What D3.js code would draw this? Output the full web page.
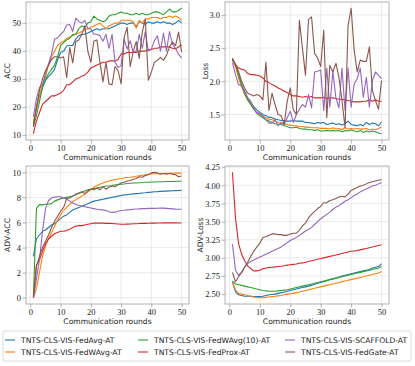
<!DOCTYPE html>
<html><head><meta charset="utf-8">
<script src="https://cdn.jsdelivr.net/npm/d3@7"></script>
<style>body{margin:0;background:#fff}svg{display:block}</style>
</head><body><svg id="c" width="415" height="366"></svg>
<script>
const rounds = d3.range(1, 51);
const seriesNames = ["TNTS-CLS-VIS-FedAvg-AT","TNTS-CLS-VIS-FedWAvg-AT","TNTS-CLS-VIS-FedWAvg(10)-AT","TNTS-CLS-VIS-FedProx-AT","TNTS-CLS-VIS-SCAFFOLD-AT","TNTS-CLS-VIS-FedGate-AT"];
const colors = ["#1f77b4","#ff7f0e","#2ca02c","#d62728","#9467bd","#8c564b"];

// ACC
const accFedAvg = [14,20,24,27,29.5,31,32,33.5,37,39.5,40,41.8,42,42,44.3,45.5,46,46,46.5,47,47.5,48,47.5,48,48,48,48.5,49,49.5,50,50,49.5,50,50,48.8,50.5,50,49.5,50.5,50,50,50.5,50,50.5,50,50,49.5,50,51,50];
const accFedWAvg = [15,19,24,28,31,35,38,40,42,43,43.5,44.5,45,45.5,46,46.5,47,47.5,48,48.5,49,49.5,50,49,48,49,49.5,50,50,51,51,51,51,50.5,48.2,51,50,51.5,51.5,52,52,52,51.5,52,52,52.5,52,52.5,52,51];
const accFedWAvg10 = [13,17,22,27,30,32,33.5,35,38,42,43,44,44.5,46,46,48,49,48.5,50,50.5,52.5,51.5,51,50.5,51,52.5,53,53,53.5,54,53.5,53.5,53,53,53.5,53,53.5,53,53,53.5,54,54,53.5,53,54,55,54,54,54.5,55.3];
const accFedProx = [10.5,15,18,21,22,23,24,24,24.5,25,26,28,28,29,30,30.5,31,31.5,32.5,34,34.5,35,35.5,36,36,36.5,36.5,36.5,37,39,39,39.5,39.5,39.5,39.5,40,40,40,40.5,40.5,41,41,41.5,41.5,41.5,41.5,41,40.8,41.5,42.2];
const accScaffold = [16.5,23,27,28,32,35.5,39,44.3,44.7,46,47,49.3,49.5,47,51.8,50.6,50,51,48,48,46,46,45.5,43.5,46,41,46,36,34.2,34.8,44.3,40.7,43.7,39.5,40,46,41,47,40,40.7,43.7,45.5,40,46.4,40,47,42.4,41,38.8,37.6];
const accFedGate = [13,20,26,30,33,35,37,38,38,37.5,38,30.5,41.3,35.8,43.4,44,46,49,40,36,43.6,44,36,29,36,28.3,28,34.5,33,28.3,44.9,48.5,34.5,39.8,43.4,37.4,46.8,51.3,29.6,32.5,36,36.7,37.8,36.7,38.5,41.5,43.2,42,46.8,39.7];

// Loss
const lossFedAvg = [2.33,2.25,2.1,1.95,1.85,1.75,1.68,1.62,1.57,1.53,1.5,1.48,1.46,1.45,1.43,1.42,1.41,1.41,1.4,1.4,1.41,1.4,1.4,1.4,1.38,1.38,1.37,1.36,1.38,1.37,1.38,1.35,1.36,1.37,1.35,1.36,1.34,1.36,1.4,1.35,1.34,1.33,1.35,1.33,1.38,1.35,1.37,1.36,1.33,1.39];
const lossFedWAvg = [2.33,2.22,2.05,1.92,1.8,1.72,1.65,1.58,1.53,1.5,1.47,1.45,1.43,1.42,1.4,1.38,1.37,1.36,1.35,1.34,1.33,1.33,1.32,1.32,1.31,1.31,1.3,1.3,1.3,1.29,1.29,1.29,1.28,1.3,1.28,1.29,1.27,1.3,1.28,1.29,1.28,1.29,1.28,1.28,1.29,1.27,1.28,1.27,1.29,1.31];
const lossFedWAvg10 = [2.35,2.25,2.1,1.95,1.82,1.72,1.65,1.58,1.52,1.48,1.45,1.42,1.4,1.38,1.36,1.35,1.35,1.33,1.32,1.3,1.3,1.31,1.29,1.28,1.28,1.27,1.27,1.26,1.27,1.25,1.25,1.26,1.25,1.26,1.25,1.26,1.24,1.26,1.25,1.27,1.25,1.24,1.26,1.23,1.25,1.24,1.25,1.24,1.22,1.21];
const lossFedProx = [2.33,2.25,2.2,2.18,2.17,2.12,2.1,2.1,2.09,2.08,2.05,2.0,1.98,1.95,1.93,1.9,1.88,1.85,1.83,1.8,1.78,1.78,1.77,1.76,1.77,1.76,1.77,1.75,1.75,1.75,1.76,1.74,1.75,1.75,1.74,1.73,1.73,1.72,1.71,1.7,1.69,1.69,1.69,1.7,1.7,1.72,1.7,1.72,1.7,1.7];
const lossScaffold = [2.28,2.1,1.95,1.93,1.85,1.75,1.7,1.6,1.52,1.52,1.48,1.42,1.37,1.37,1.42,1.33,1.38,1.35,1.45,1.55,1.38,1.5,1.58,1.65,1.61,1.8,1.6,2.14,2.15,2.17,1.56,2.2,1.61,2.15,1.75,1.6,2.2,1.56,2.2,1.61,1.96,2.04,2.2,1.76,2.06,1.61,2.01,2.14,2.09,2.04];
const lossFedGate = [2.32,2.25,2.15,2.0,1.9,1.82,1.8,1.78,1.8,1.78,1.72,2.29,1.56,1.82,1.65,1.5,1.48,1.35,1.7,1.9,1.57,1.5,2.92,2.5,2.09,2.93,2.97,2.42,2.35,2.22,2.77,1.45,2.24,2.14,2.27,2.06,1.71,1.3,2.84,3.1,2.47,2.14,2.32,2.3,2.3,2.52,1.86,1.71,1.58,2.01];

// ADV-ACC
const advAccFedAvg = [3.3,4.7,5.0,5.3,5.4,5.6,5.8,5.9,6.1,6.3,6.5,6.6,6.8,7.0,7.1,7.2,7.3,7.4,7.5,7.6,7.7,7.75,7.8,7.85,7.9,7.95,8.0,8.05,8.1,8.15,8.2,8.22,8.25,8.28,8.3,8.32,8.35,8.37,8.4,8.42,8.45,8.46,8.48,8.5,8.5,8.52,8.53,8.54,8.55,8.56];
const advAccFedWAvg = [0,0.7,2.0,3.3,4.1,4.7,5.2,5.7,6.2,6.6,6.95,7.2,7.45,7.65,7.8,7.95,8.1,8.25,8.45,8.65,8.8,8.95,9.05,9.15,9.25,9.3,9.37,9.42,9.46,9.5,9.55,9.58,9.6,9.63,9.68,9.72,9.76,9.8,9.84,9.87,9.88,9.89,9.9,9.9,9.91,9.92,9.92,9.93,9.93,9.93];
const advAccFedWAvg10 = [0.1,7.1,7.42,7.4,7.45,7.45,7.5,7.7,7.8,7.9,7.95,8.0,8.05,8.1,8.2,8.3,8.4,8.5,8.6,8.65,8.7,8.75,8.8,8.85,8.9,8.92,8.95,9.0,9.02,9.05,9.07,9.1,9.12,9.14,9.15,9.17,9.18,9.2,9.2,9.22,9.23,9.24,9.25,9.25,9.26,9.27,9.27,9.28,9.28,9.29];
const advAccFedProx = [0,2.6,3.0,3.7,4.3,4.7,4.9,5.1,5.2,5.3,5.3,5.35,5.45,5.6,5.7,5.75,5.75,5.8,5.85,5.9,5.95,5.95,5.95,5.95,5.93,5.93,5.92,5.9,5.88,5.86,5.86,5.87,5.88,5.9,5.9,5.92,5.93,5.93,5.94,5.95,5.95,5.96,5.96,5.97,5.97,5.98,5.97,5.97,5.96,5.96];
const advAccScaffold = [0,1.5,3.0,5.3,7.1,7.75,7.95,8.02,8.05,8.05,7.95,7.85,7.7,7.55,7.45,7.35,7.3,7.25,7.2,7.15,7.1,7.05,7.02,7.0,6.95,6.85,6.8,6.82,6.9,6.95,6.97,7.0,7.02,7.05,7.07,7.08,7.1,7.1,7.12,7.12,7.12,7.13,7.14,7.14,7.12,7.1,7.08,7.06,7.05,7.05];
const advAccFedGate = [0,2.5,3.3,4.0,4.5,5.0,5.6,6.1,6.5,6.9,7.2,7.9,7.95,8.1,8.25,8.35,8.45,8.3,8.5,8.65,8.6,8.75,8.6,8.85,8.65,8.8,8.9,8.85,9.0,9.15,9.2,9.3,9.35,9.45,9.5,9.65,9.6,9.75,9.8,9.95,10.0,9.95,9.85,9.9,9.85,9.9,9.85,9.8,9.65,9.7];

// ADV-Loss
const advLossFedAvg = [2.67,2.53,2.49,2.48,2.47,2.47,2.47,2.465,2.465,2.465,2.47,2.48,2.49,2.495,2.5,2.51,2.52,2.53,2.54,2.55,2.56,2.57,2.58,2.59,2.6,2.61,2.62,2.635,2.65,2.66,2.67,2.685,2.7,2.71,2.72,2.735,2.75,2.76,2.77,2.78,2.79,2.8,2.81,2.82,2.83,2.84,2.86,2.87,2.88,2.92];
const advLossFedWAvg = [2.66,2.56,2.51,2.5,2.49,2.48,2.47,2.46,2.455,2.45,2.45,2.455,2.46,2.465,2.47,2.475,2.48,2.49,2.5,2.505,2.51,2.52,2.53,2.54,2.55,2.56,2.57,2.58,2.59,2.6,2.61,2.62,2.63,2.64,2.65,2.66,2.67,2.68,2.69,2.7,2.71,2.72,2.73,2.74,2.75,2.76,2.77,2.78,2.79,2.81];
const advLossFedWAvg10 = [2.68,2.64,2.63,2.62,2.61,2.6,2.59,2.58,2.57,2.56,2.55,2.545,2.54,2.54,2.54,2.545,2.55,2.555,2.56,2.57,2.58,2.59,2.6,2.61,2.62,2.63,2.64,2.65,2.66,2.67,2.68,2.69,2.7,2.71,2.72,2.73,2.74,2.75,2.76,2.77,2.78,2.79,2.8,2.81,2.82,2.83,2.84,2.85,2.86,2.88];
const advLossFedProx = [4.18,3.55,3.2,3.05,2.96,2.89,2.85,2.82,2.82,2.83,2.85,2.86,2.865,2.87,2.875,2.88,2.885,2.89,2.9,2.905,2.91,2.915,2.925,2.93,2.94,2.95,2.96,2.97,2.98,2.99,3.0,3.01,3.02,3.03,3.04,3.05,3.06,3.07,3.08,3.09,3.095,3.1,3.11,3.12,3.13,3.14,3.15,3.16,3.17,3.18];
const advLossScaffold = [3.19,2.83,2.76,2.8,2.87,2.92,2.95,2.97,2.99,3.01,3.03,3.05,3.07,3.09,3.11,3.13,3.15,3.18,3.21,3.24,3.26,3.28,3.31,3.34,3.37,3.39,3.42,3.46,3.5,3.54,3.57,3.6,3.63,3.67,3.7,3.72,3.75,3.78,3.8,3.83,3.86,3.88,3.91,3.93,3.95,3.97,3.99,4.0,4.02,4.04];
const advLossFedGate = [2.8,2.67,2.74,2.8,2.87,2.94,3.02,3.09,3.15,3.2,3.28,3.29,3.31,3.33,3.33,3.32,3.32,3.31,3.31,3.33,3.34,3.34,3.38,3.44,3.48,3.55,3.6,3.64,3.68,3.71,3.76,3.76,3.79,3.8,3.82,3.84,3.85,3.84,3.88,3.93,3.95,3.97,3.99,4.0,4.02,4.04,4.05,4.06,4.07,4.08];

const xTicks = [0,10,20,30,40,50];
const accTicks = [10,20,30,40,50];
const lossTicks = [1.5,2.0,2.5,3.0];
const advAccTicks = [0,2,4,6,8,10];
const advLossTicks = [2.50,2.75,3.00,3.25,3.50,3.75,4.00,4.25];

const svg = d3.select("#c");
const panels = [
  {data:[accFedAvg,accFedWAvg,accFedWAvg10,accFedProx,accScaffold,accFedGate], ylab:"ACC", ticks:accTicks, fmt:d3.format("d"), x0:26, x1:189, y0:2, y1:140, labx:8},
  {data:[lossFedAvg,lossFedWAvg,lossFedWAvg10,lossFedProx,lossScaffold,lossFedGate], ylab:"Loss", ticks:lossTicks, fmt:d3.format(".1f"), x0:225, x1:389, y0:2, y1:140, labx:206},
  {data:[advAccFedAvg,advAccFedWAvg,advAccFedWAvg10,advAccFedProx,advAccScaffold,advAccFedGate], ylab:"ADV-ACC", ticks:advAccTicks, fmt:d3.format("d"), x0:26, x1:189, y0:166, y1:304, labx:8},
  {data:[advLossFedAvg,advLossFedWAvg,advLossFedWAvg10,advLossFedProx,advLossScaffold,advLossFedGate], ylab:"ADV-Loss", ticks:advLossTicks, fmt:d3.format(".2f"), x0:225, x1:389, y0:166, y1:304, labx:201}
];

panels.forEach(p => {
  const all = p.data.flat();
  const mn = d3.min(all), mx = d3.max(all), pad = (mx-mn)*0.05;
  const x = d3.scaleLinear().domain([1-49*0.05, 50+49*0.05]).range([p.x0, p.x1]);
  const y = d3.scaleLinear().domain([mn-pad, mx+pad]).range([p.y1, p.y0]);
  const g = svg.append("g");
  g.selectAll(".gx").data(xTicks).join("line").attr("x1",d=>x(d)).attr("x2",d=>x(d)).attr("y1",p.y0).attr("y2",p.y1).attr("stroke","#e6e6e6").attr("stroke-width",0.8);
  g.selectAll(".gy").data(p.ticks).join("line").attr("y1",d=>y(d)).attr("y2",d=>y(d)).attr("x1",p.x0).attr("x2",p.x1).attr("stroke","#e6e6e6").attr("stroke-width",0.8);
  const line = d3.line().x((d,i)=>x(rounds[i])).y(d=>y(d));
  p.data.forEach((s,k)=>{
    g.append("path").attr("d",line(s)).attr("fill","none").attr("stroke",colors[k]).attr("stroke-width",1.1).attr("stroke-linejoin","round");
  });
  g.append("rect").attr("x",p.x0).attr("y",p.y0).attr("width",p.x1-p.x0).attr("height",p.y1-p.y0).attr("fill","none").attr("stroke","#a0a0a0").attr("stroke-width",0.8);
  const ax = g.append("g").attr("transform",`translate(0,${p.y1})`).call(d3.axisBottom(x).tickValues(xTicks).tickSize(3.5).tickPadding(1.5).tickFormat(d3.format("d")));
  const ay = g.append("g").attr("transform",`translate(${p.x0},0)`).call(d3.axisLeft(y).tickValues(p.ticks).tickSize(3.5).tickPadding(1.5).tickFormat(p.fmt));
  [ax,ay].forEach(a=>{
    a.select(".domain").remove();
    a.selectAll(".tick line").attr("stroke","#a0a0a0").attr("stroke-width",0.8);
    a.selectAll(".tick text").attr("font-family","'Liberation Serif', serif").attr("font-size",8.5).attr("fill","#222");
  });
  g.append("text").attr("x",(p.x0+p.x1)/2).attr("y",p.y1+20).attr("text-anchor","middle").attr("font-family","'DejaVu Sans', sans-serif").attr("font-size",7.6).attr("fill","#222").text("Communication rounds");
  g.append("text").attr("transform",`translate(${p.labx},${(p.y0+p.y1)/2}) rotate(-90)`).attr("text-anchor","middle").attr("dominant-baseline","middle").attr("font-family","'DejaVu Sans', sans-serif").attr("font-size",7.6).attr("fill","#222").text(p.ylab);
});

const lg = svg.append("g");
lg.append("rect").attr("x",3).attr("y",331).attr("width",408).attr("height",30).attr("rx",2).attr("fill","#fff").attr("stroke","#d0d0d0").attr("stroke-width",0.8);
const colX = [5,138,285];
const rowY = [340,352];
seriesNames.forEach((n,i)=>{
  const c = Math.floor(i/2), r = i%2;
  lg.append("line").attr("x1",colX[c]).attr("x2",colX[c]+10).attr("y1",rowY[r]).attr("y2",rowY[r]).attr("stroke",colors[i]).attr("stroke-width",1.1);
  lg.append("text").attr("x",colX[c]+16).attr("y",rowY[r]).attr("dominant-baseline","central").attr("font-family","'DejaVu Sans', sans-serif").attr("font-size",7.6).attr("fill","#222").text(n);
});
</script></body></html>
